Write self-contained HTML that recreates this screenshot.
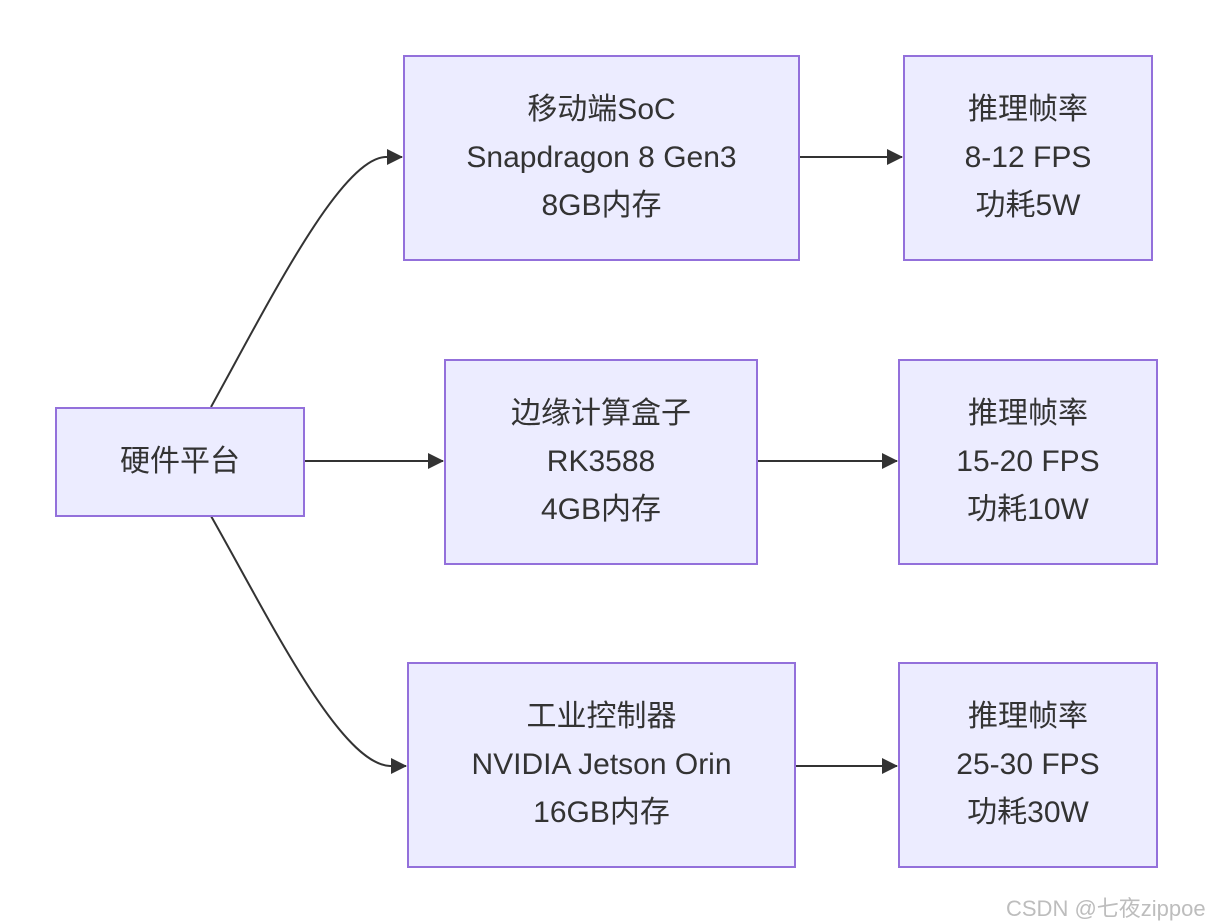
<!DOCTYPE html>
<html><head><meta charset="utf-8"><style>
body{margin:0;width:1213px;height:923px;background:#fff;position:relative;overflow:hidden;font-family:"Liberation Sans","Noto Sans CJK SC",sans-serif;}
.n{position:absolute;box-sizing:border-box;background:#ECECFF;border:2px solid #9370DB;color:#333;font-size:30px;line-height:48px;display:flex;flex-direction:column;align-items:center;justify-content:center;text-align:center;white-space:nowrap;}
svg{position:absolute;left:0;top:0}
.wm{position:absolute;left:1006px;top:891px;font-size:22px;color:#bdbdbd;white-space:nowrap}
</style></head><body>
<svg width="1213" height="923">
<defs><marker id="a" markerWidth="16" markerHeight="16" refX="15" refY="8" orient="auto" markerUnits="userSpaceOnUse"><path d="M0,0 L16,8 L0,16 z" fill="#333"/></marker></defs>
<g stroke="#333" stroke-width="2" fill="none">
<path d="M211,407 C270,300 340,160 385,157 L402,157" marker-end="url(#a)"/>
<path d="M304,461 L443,461" marker-end="url(#a)"/>
<path d="M211,516 C270,620 340,764 390,766 L406,766" marker-end="url(#a)"/>
<path d="M799,157 L902,157" marker-end="url(#a)"/>
<path d="M757,461 L897,461" marker-end="url(#a)"/>
<path d="M795,766 L897,766" marker-end="url(#a)"/>
</g></svg>
<div class="n" style="left:55px;top:407px;width:250px;height:110px">硬件平台</div>
<div class="n" style="left:403px;top:55px;width:397px;height:206px"><div>移动端SoC</div><div>Snapdragon 8 Gen3</div><div>8GB内存</div></div>
<div class="n" style="left:444px;top:359px;width:314px;height:206px"><div>边缘计算盒子</div><div>RK3588</div><div>4GB内存</div></div>
<div class="n" style="left:407px;top:662px;width:389px;height:206px"><div>工业控制器</div><div>NVIDIA Jetson Orin</div><div>16GB内存</div></div>
<div class="n" style="left:903px;top:55px;width:250px;height:206px"><div>推理帧率</div><div>8-12 FPS</div><div>功耗5W</div></div>
<div class="n" style="left:898px;top:359px;width:260px;height:206px"><div>推理帧率</div><div>15-20 FPS</div><div>功耗10W</div></div>
<div class="n" style="left:898px;top:662px;width:260px;height:206px"><div>推理帧率</div><div>25-30 FPS</div><div>功耗30W</div></div>
<div class="wm">CSDN @七夜zippoe</div>
</body></html>
